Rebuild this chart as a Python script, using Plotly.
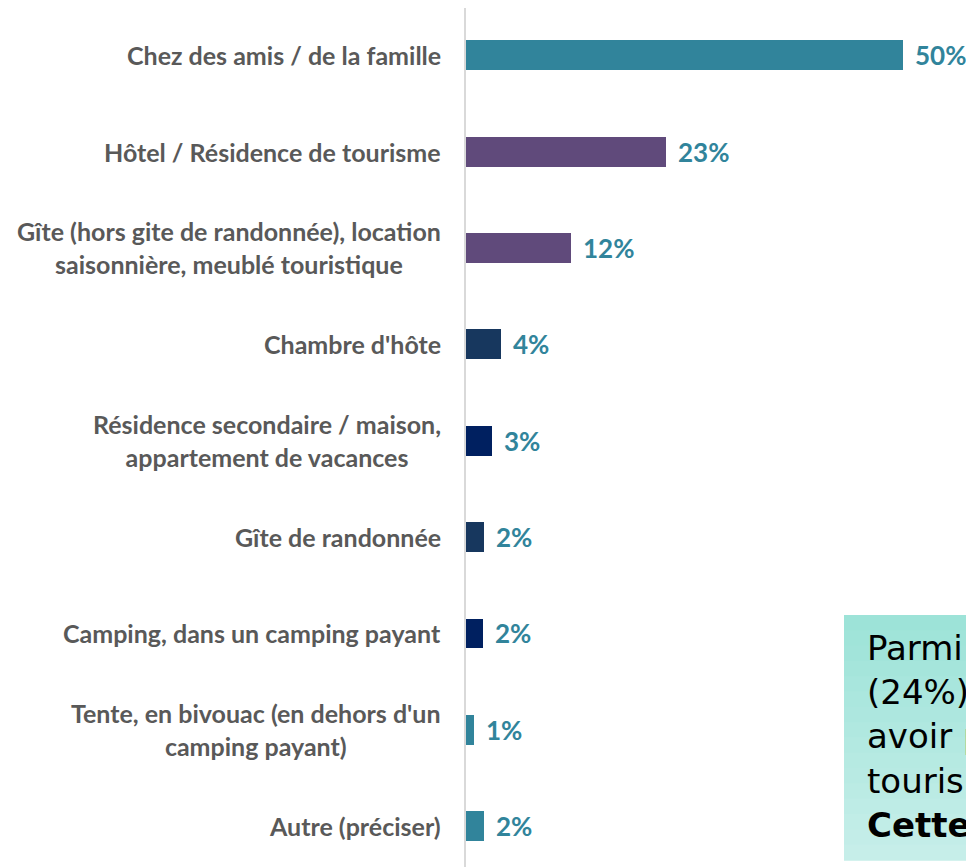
import plotly.graph_objects as go

categories = [
    "Chez des amis / de la famille",
    "Hôtel / Résidence de tourisme",
    "Gîte (hors gite de randonnée), location<br>saisonnière, meublé touristique",
    "Chambre d'hôte",
    "Résidence secondaire / maison,<br>appartement de vacances",
    "Gîte de randonnée",
    "Camping, dans un camping payant",
    "Tente, en bivouac (en dehors d'un<br>camping payant)",
    "Autre (préciser)",
]
values = [50.0, 22.9, 12.0, 4.0, 3.0, 2.1, 2.0, 0.9, 2.1]
value_labels = ["50%", "23%", "12%", "4%", "3%", "2%", "2%", "1%", "2%"]
bar_colors = ["#31849B", "#604A7B", "#604A7B", "#17375E", "#002060",
              "#17375E", "#002060", "#31849B", "#31849B"]

box_lines = ["Parmi", "(24%)", "avoir p", "tourism", "<b>Cette</b>"]

# page body has an 8px margin: figure is drawn offset by 8px
OFF = 8
W, H = 974 - OFF, 867 - OFF
AXIS_PX = 466           # reference pixel of the axis line
ML, MR, MT, MB = AXIS_PX - OFF, 0, 0, 0
plot_w = W - ML - MR
plot_h = H - MT - MB
PX_PER_PCT = 8.74
PX_PER_CAT = 96.375
FIRST_CAT_PX = 55.2     # reference pixel of the first category centre

top_idx = -(FIRST_CAT_PX - OFF - MT) / PX_PER_CAT
bot_idx = top_idx + plot_h / PX_PER_CAT

fig = go.Figure()
fig.add_trace(go.Bar(
    x=values, y=categories, orientation="h",
    marker=dict(color=bar_colors, line=dict(width=0)),
    width=0.31, hoverinfo="skip",
))

annotations = []
for c in categories:
    annotations.append(dict(
        x=0, y=c, xref="x", yref="y", text=c, showarrow=False,
        xanchor="right", yanchor="middle", align="center", xshift=-23,
        font=dict(family="Lato", size=25, color="#595959", weight="bold"),
    ))
for c, v, t in zip(categories, values, value_labels):
    annotations.append(dict(
        x=v, y=c, xref="x", yref="y", text=t, showarrow=False,
        xanchor="left", yanchor="middle", xshift=10,
        font=dict(family="Lato", size=26, color="#31849B", weight="bold"),
    ))

def px_x(p):
    return (p - OFF - ML) / plot_w
def px_y(p):
    return (H - MB - (p - OFF)) / plot_h

# gradient box
top_px, bot_px, left_px = 615, 860, 844
c0 = (157, 227, 216)
c1 = (198, 238, 233)
n = 16
shapes = []
for i in range(n):
    y0p = top_px + (bot_px - top_px) * i / n
    y1p = top_px + (bot_px - top_px) * (i + 1) / n
    f = i / (n - 1)
    col = "rgb(%d,%d,%d)" % tuple(round(a + (b - a) * f) for a, b in zip(c0, c1))
    shapes.append(dict(type="rect", xref="paper", yref="paper",
                       x0=px_x(left_px), x1=1.05, y0=px_y(y1p) - 0.001, y1=px_y(y0p),
                       fillcolor=col, line=dict(width=0), layer="above"))

annotations.append(dict(
    x=px_x(865), y=px_y(626), xref="paper", yref="paper",
    text="<br>".join(box_lines), showarrow=False, xanchor="left", yanchor="top",
    align="left", font=dict(family="DejaVu Sans", size=34, color="#000000"),
))

fig.update_layout(
    width=W, height=H,
    margin=dict(l=ML, r=MR, t=MT, b=MB),
    paper_bgcolor="white", plot_bgcolor="white",
    showlegend=False,
    xaxis=dict(range=[0, plot_w / PX_PER_PCT], visible=False, showgrid=False, zeroline=False),
    yaxis=dict(categoryorder="array", categoryarray=categories,
               range=[bot_idx, top_idx], autorange=False,
               showticklabels=False, ticks="", showgrid=False, zeroline=False,
               showline=True, linecolor="#D9D9D9", linewidth=2),
    annotations=annotations, shapes=shapes,
    bargap=0,
)

fig.write_html("out.html")
